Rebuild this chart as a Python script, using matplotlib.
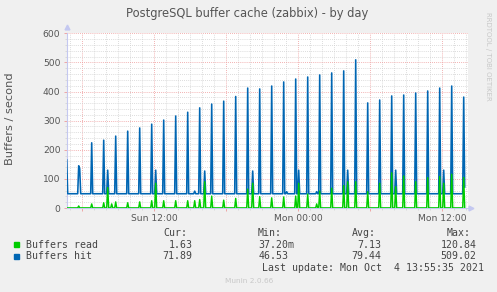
import numpy as np
import matplotlib
matplotlib.use("Agg")
import matplotlib.pyplot as plt
from matplotlib.patches import Rectangle

# --- data (hours relative to Mon 00:00, 5 minute samples) ---
t_start = -19.3
t_end = 13.92
hit_base = 49.0
read_base = 0.4

# hourly job spikes
hourly_hours = [-18.33, -17.25, -16.25, -15.25, -14.25, -13.25, -12.25, -11.25,
                -10.25, -9.25, -8.25, -7.25, -6.25, -5.25, -4.25, -3.25, -2.25,
                -1.25, -0.25, 0.75, 1.75, 2.75, 3.75, 4.75, 5.75, 6.75, 7.75,
                8.75, 9.75, 10.75, 11.75, 12.75, 13.75]
hit_hourly = [145, 224, 233, 247, 264, 275, 288, 302, 316, 329, 344, 357, 367,
              383, 412, 409, 419, 433, 443, 450, 457, 464, 471, 509.02, 361, 371,
              385, 388, 395, 402, 412, 419, 381]
read_hourly = [7, 14, 18, 21, 18, 21, 25, 25, 25, 25, 29, 41, 27, 33, 65, 39, 35,
               38, 41, 48, 58, 68, 77, 90, 56, 85, 120.84, 110, 90, 104, 108, 116, 105]

# 4-hourly secondary spikes
second_hours = [-15.92, -11.92, -7.83, -3.83, 0.06, 4.08, 8.08, 12.08]
hit_second = [130, 130, 127, 127, 130, 130, 130, 130]
read_second = [70, 85, 90, 85, 85, 90, 73, 85]

# odd small bumps
extra_hours = [-19.3, -18.25, -15.53, -8.67, -1.0, 1.5]
hit_extra = [165, 135, 49, 58, 56, 56]
read_extra = [read_base, read_base, 14, 25, read_base, 14]

hit_cur = 71.89
read_cur = 1.63

xtick_hours = [-18, -12, -6, 0, 6, 12]
xtick_labels = ["", "Sun 12:00", "", "Mon 00:00", "", "Mon 12:00"]

legend_rows = [
    ("Buffers read", "#00CC00", "1.63", "37.20m", "7.13", "120.84"),
    ("Buffers hit", "#0066B3", "71.89", "46.53", "79.44", "509.02"),
]

# --- build the series ---
t = np.arange(t_start, t_end + 1e-9, 1 / 12)
hit = np.full(len(t), hit_base)
read = np.full(len(t), read_base)


def put(series, hours, values):
    for h, v in zip(hours, values):
        series[np.argmin(np.abs(t - h))] = v


put(hit, hourly_hours, hit_hourly)
put(read, hourly_hours, read_hourly)
put(hit, second_hours, hit_second)
put(read, second_hours, read_second)
put(hit, extra_hours, hit_extra)
put(read, extra_hours, read_extra)
hit[-1] = hit_cur
read[-1] = read_cur

# --- figure ---
W, H = 497, 292
fig = plt.figure(figsize=(W / 100, H / 100), dpi=100, facecolor="#F0F0F0")
x0, x1, ytop, ybot = 66.7, 467.5, 33.3, 208.0
ax = fig.add_axes([x0 / W, (H - ybot) / H, (x1 - x0) / W, (ybot - ytop) / H])
ax.set_facecolor("white")

ax.plot(t, hit, color="#0066B3", lw=1.15, zorder=3)
ax.plot(t, read, color="#00CC00", lw=1.05, zorder=4)

ax.set_xlim(t_start, (x1 - 298.3) / 12)
ax.set_ylim(0, 600)

ax.set_xticks(xtick_hours)
ax.set_xticklabels(xtick_labels)
ax.set_xticks(np.arange(-19, 15, 1), minor=True)
ax.set_yticks([0, 100, 200, 300, 400, 500, 600])
ax.set_yticks(np.arange(0, 601, 20), minor=True)

ax.grid(which="minor", color="#D0D0D0", lw=0.6, linestyle=(0, (1, 1.5)), zorder=1)
ax.grid(which="major", color="#EE9999", lw=0.6, linestyle=(0, (1, 1.5)), zorder=2)

ax.tick_params(which="major", length=2, width=0.6, color="#EE9999",
               labelsize=6.6, labelcolor="#555555", pad=2.5)
ax.tick_params(which="minor", length=1.5, width=0.5, color="#D0D0D0")

for side in ["top", "right"]:
    ax.spines[side].set_visible(False)
for side in ["left", "bottom"]:
    ax.spines[side].set_color("#C4C8F0")
    ax.spines[side].set_linewidth(0.8)

# axis arrows
ax.plot([0], [1.035], marker="^", ms=3.5, color="#C4C8F0", transform=ax.transAxes, clip_on=False)
ax.plot([1.008], [0], marker=">", ms=3.5, color="#C4C8F0", transform=ax.transAxes, clip_on=False)

# texts
fig.text(247.5 / W, 1 - 14 / H, "PostgreSQL buffer cache (zabbix) - by day",
         ha="center", va="center", fontsize=8.3, color="#555555")
fig.text(10 / W, 1 - 119 / H, "Buffers / second", rotation=90,
         ha="center", va="center", fontsize=8.2, color="#555555")
fig.text(488 / W, 1 - 56 / H, "RRDTOOL / TOBI OETIKER", rotation=270,
         ha="center", va="center", fontsize=5.0, color="#C8C8C8")

mono = dict(family="DejaVu Sans Mono", fontsize=7.1, color="#444444", va="center")
hy = 1 - 233.3 / H
fig.text(163.3 / W, hy, "Cur:", ha="left", **mono)
fig.text(257.7 / W, hy, "Min:", ha="left", **mono)
fig.text(352.3 / W, hy, "Avg:", ha="left", **mono)
fig.text(446.7 / W, hy, "Max:", ha="left", **mono)

for i, (name, col, cur, mn, avg, mx) in enumerate(legend_rows):
    yc = 244.7 + i * 11.7
    y = 1 - yc / H
    fig.add_artist(Rectangle((14 / W, 1 - (yc + 2.6) / H), 5.3 / W, 5.2 / H,
                             transform=fig.transFigure, color=col))
    fig.text(26.3 / W, y, name, ha="left", **mono)
    fig.text(192.3 / W, y, cur, ha="right", **mono)
    fig.text(258.3 / W, y, mn, ha="left", **mono)
    fig.text(381.7 / W, y, avg, ha="right", **mono)
    fig.text(476.7 / W, y, mx, ha="right", **mono)

fig.text(261.7 / W, 1 - 268.3 / H, "Last update: Mon Oct  4 13:55:35 2021", ha="left", **mono)
fig.text(249 / W, 1 - 281 / H, "Munin 2.0.66", ha="center", va="center",
         fontsize=5.3, color="#C8C8C8")

fig.savefig("out.png", dpi=100, facecolor=fig.get_facecolor())
